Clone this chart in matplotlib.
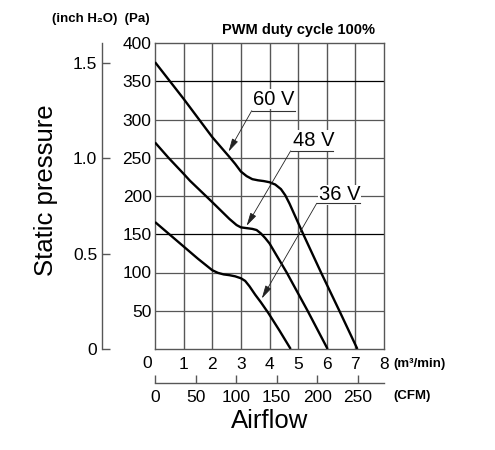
import matplotlib
matplotlib.use('Agg')
import matplotlib.pyplot as plt

plt.rcParams['font.family'] = ['Liberation Sans', 'DejaVu Sans']

# ---- data ----
flow_60 = [0, 0.5, 1.0, 1.5, 2.0, 2.6, 2.8, 3.0, 3.2, 3.4, 3.6, 3.8, 4.0, 4.2, 4.4,
           4.55, 4.7, 5.18, 5.8, 6.44, 7.07]
pres_60 = [375, 351, 327, 302, 277, 251, 242, 232, 226, 222, 220.5, 219.5, 218, 215, 209,
           201, 190, 150, 100, 50, 0]

flow_48 = [0, 0.47, 1.0, 1.22, 1.75, 2.0, 2.3, 2.6, 2.85, 3.0, 3.2, 3.4, 3.55, 3.7,
           3.85, 4.0, 4.6, 5.33, 6.03]
pres_48 = [270, 250, 229, 220, 201, 192, 181, 170, 162, 159, 158, 157, 155.5, 151,
           145, 138, 100, 50, 0]

flow_36 = [0, 0.5, 1.0, 1.5, 2.0, 2.2, 2.4, 2.6, 2.8, 3.0, 3.15, 3.3, 3.5, 3.7, 3.96,
           4.35, 4.74]
pres_36 = [166, 150, 134, 118, 103, 99.5, 97.5, 96.5, 95, 92.5, 89, 82, 71, 61, 47,
           24, 0]

series_labels = ['60 V', '48 V', '36 V']

pa_ticks = [50, 100, 150, 200, 250, 300, 350, 400]
m3_ticks = [0, 1, 2, 3, 4, 5, 6, 7, 8]
m3_labels = ['', '1', '2', '3', '4', '5', '6', '7', '8']
cfm_ticks = [0, 50, 100, 150, 200, 250]
inch_ticks = [0, 0.5, 1.0, 1.5]
inch_labels = ['0', '0.5', '1.0', '1.5']

PA_PER_INCH = 249.089
CFM_PER_M3 = 35.3147

# label placement (data coords): text centre, underline start/end, arrow tip
label_text_xy = [(4.16, 326.5), (5.53, 272.5), (6.44, 201.5)]
label_line_x = [(3.38, 4.89), (4.74, 6.23), (5.65, 7.16)]
label_line_y = [311.5, 259.0, 190.5]
label_tip = [(2.57, 258), (3.2, 161), (3.73, 66)]

GRID = '#575757'

fig = plt.figure(figsize=(4.95, 4.5), dpi=100)
ax = fig.add_axes([155 / 495, 1 - 349 / 450, 229 / 495, 306 / 450])
ax.set_xlim(0, 8)
ax.set_ylim(0, 400)

for x in m3_ticks[1:-1]:
    ax.axvline(x, color=GRID, lw=1.0, zorder=1)
for p in pa_ticks[:-1]:
    c = 'black' if p in (150, 350) else GRID
    ax.axhline(p, color=c, lw=0.9, zorder=1)
for s in ax.spines.values():
    s.set_color(GRID)
    s.set_linewidth(1.0)

for fl, pr in [(flow_60, pres_60), (flow_48, pres_48), (flow_36, pres_36)]:
    ax.plot(fl, pr, color='black', lw=1.7, zorder=3,
            solid_joinstyle='round', solid_capstyle='butt')

ax.set_yticks(pa_ticks)
ax.set_yticklabels([str(v) for v in pa_ticks])
ax.tick_params(axis='y', length=0, pad=2.5, labelsize=12.5)
ax.set_xticks(m3_ticks)
ax.set_xticklabels(m3_labels)
ax.tick_params(axis='x', length=0, pad=6, labelsize=12.5)
ax.annotate('0', xy=(0, 0), xycoords='data', xytext=(-8, -15),
            textcoords='offset pixels', ha='center', va='center', fontsize=12.5)

# inch H2O axis
sy = ax.secondary_yaxis(-0.233, functions=(lambda p: p / PA_PER_INCH,
                                           lambda i: i * PA_PER_INCH))
sy.set_yticks(inch_ticks)
sy.set_yticklabels(inch_labels)
sy.tick_params(direction='in', length=6, width=1, color=GRID, pad=3.2, labelsize=12.5)
sy.spines['left'].set_color(GRID)
sy.spines['left'].set_linewidth(1.0)

# CFM axis
sx = ax.secondary_xaxis(-0.110, functions=(lambda m: m * CFM_PER_M3,
                                           lambda c: c / CFM_PER_M3))
sx.set_xticks(cfm_ticks)
sx.set_xticklabels([str(v) for v in cfm_ticks])
sx.tick_params(direction='in', length=6, width=1, color=GRID, pad=5.5, labelsize=12.5)
sx.spines['bottom'].set_color(GRID)
sx.spines['bottom'].set_linewidth(1.0)

# voltage labels
for lab, (tx, ty), (lx0, lx1), ly, tip in zip(series_labels, label_text_xy,
                                              label_line_x, label_line_y, label_tip):
    ax.text(tx, ty, lab, fontsize=14.5, ha='center', va='center', zorder=5,
            bbox=dict(facecolor='white', edgecolor='none', pad=0.5))
    ax.plot([lx0, lx1], [ly, ly], color='#333333', lw=0.8, zorder=5)
    ax.annotate('', xy=tip, xytext=(lx0, ly), zorder=5,
                arrowprops=dict(arrowstyle='-|>,head_length=0.8,head_width=0.2',
                                lw=0.6, color='#222222', shrinkA=0, shrinkB=0))

# texts
fig.text(101 / 495, 1 - 19 / 450, '(inch H₂O)  (Pa)', ha='center', va='center',
         fontsize=9.5, weight='bold')
fig.text(298 / 495, 1 - 30 / 450, 'PWM duty cycle 100%', ha='center', va='center',
         fontsize=10.5, weight='bold')
fig.text(393 / 495, 1 - 363.5 / 450, '(m³/min)', ha='left', va='center',
         fontsize=9.5, weight='bold')
fig.text(393 / 495, 1 - 396.5 / 450, '(CFM)', ha='left', va='center',
         fontsize=9.5, weight='bold')
fig.text(269.5 / 495, 1 - 421.5 / 450, 'Airflow', ha='center', va='center', fontsize=18.5)
fig.text(46 / 495, 1 - 190 / 450, 'Static pressure', ha='center', va='center',
         fontsize=18.5, rotation=90)

fig.savefig('out.png', dpi=100)
